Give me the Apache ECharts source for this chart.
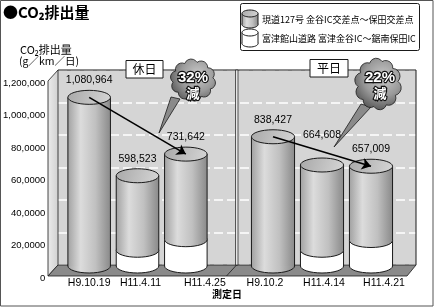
<!DOCTYPE html>
<html><head><meta charset="utf-8">
<script src="https://cdn.jsdelivr.net/npm/echarts@6/dist/echarts.min.js"></script>
<style>html,body{margin:0;padding:0;background:#fff}#c{width:434px;height:307px}</style>
</head><body><div id="c"></div>
<script>
// ---- data ----
const holidayDates = ['H9.10.19', 'H11.4.11', 'H11.4.25'];
const weekdayDates = ['H9.10.2', 'H11.4.14', 'H11.4.21'];
const holidayTotal = [1080964, 598523, 731642];
const weekdayTotal = [838427, 664608, 657009];
const holidayExpressway = [0, 140000, 205000];   // 富津館山道路 (white part)
const weekdayExpressway = [0, 140000, 200000];
const holidayLocal = [1080964, 458523, 526642];   // 現道127号 (gray part)
const weekdayLocal = [838427, 524608, 457009];
const yTickLabels = ['0', '20,0000', '40,0000', '60,0000', '80,0000', '1,000,000', '1,200,000'];
const groupNames = ['休日', '平日'];
const reductions = ['32%', '22%'];
const seriesNames = ['現道127号 金谷IC交差点～保田交差点', '富津館山道路 富津金谷IC～鋸南保田IC'];
const titleText = '●CO₂排出量';
const yTitle = ['CO₂排出量', '(g／km／日)'];
const xTitle = '測定日';
const yMax = 1200000, yStep = 200000;

// ---- styles ----
const numFont = '"Liberation Sans",Arial,sans-serif';
const jpFont = '"Noto Sans CJK JP","Noto Sans",sans-serif';
const stroke = '#1a1a1a';
const grayBody = {type:'linear',x:0,y:0,x2:1,y2:0,colorStops:[{offset:0,color:'#a2a2a2'},{offset:0.3,color:'#dcdcdc'},{offset:0.65,color:'#c0c0c0'},{offset:1,color:'#8a8a8a'}]};
const grayTop = {type:'linear',x:0,y:0,x2:1,y2:1,colorStops:[{offset:0,color:'#a8a8a8'},{offset:1,color:'#d6d6d6'}]};
const fmt = n => n.toLocaleString('en-US');

function makeRender(totals, labelLift){
  return function(params, api){
    const i = api.value(0), ex = api.value(1), lo = api.value(2);
    const p0 = api.coord([i, 0]);
    const cx = p0[0];
    const w = api.size([1, 0])[0] * 0.88, rx = w / 2, ry = 7;
    const base = p0[1] - ry;
    const yEx = api.coord([i, ex])[1];
    const yTop = api.coord([i, ex + lo])[1];
    const kids = [];
    function segment(yb, yt, fill){
      kids.push({type:'ellipse', shape:{cx:cx, cy:yb, rx:rx, ry:ry}, style:{fill:fill, stroke:stroke, lineWidth:1}});
      kids.push({type:'rect', shape:{x:cx-rx, y:yt, width:w, height:yb-yt}, style:{fill:fill}});
      kids.push({type:'line', shape:{x1:cx-rx, y1:yt, x2:cx-rx, y2:yb}, style:{stroke:stroke, lineWidth:1}});
      kids.push({type:'line', shape:{x1:cx+rx, y1:yt, x2:cx+rx, y2:yb}, style:{stroke:stroke, lineWidth:1}});
    }
    let yb = base;
    if (ex > 0) { segment(base, yEx, '#ffffff'); yb = yEx; }
    segment(yb, yTop, grayBody);
    kids.push({type:'ellipse', shape:{cx:cx, cy:yTop, rx:rx, ry:ry}, style:{fill:grayTop, stroke:stroke, lineWidth:1}});
    kids.push({type:'text', x:cx, y:yTop - ry - 10 - (labelLift[params.dataIndex] || 0),
      style:{text:fmt(totals[params.dataIndex]), align:'center', verticalAlign:'middle', textAlign:'center', textVerticalAlign:'middle', font:'10.5px ' + numFont, fill:'#000'}});
    return {type:'group', children:kids};
  };
}

function cloudPath(cx, cy, rx, ry, n){
  let pts = [];
  for (let k = 0; k < n; k++) {
    const t = Math.PI * 2 * k / n - Math.PI / 2 + 0.2;
    pts.push([cx + rx * Math.cos(t), cy + ry * Math.sin(t)]);
  }
  let d = 'M' + pts[0][0].toFixed(1) + ' ' + pts[0][1].toFixed(1);
  for (let k = 1; k <= n; k++) {
    const a = pts[k - 1], b = pts[k % n];
    const r = Math.hypot(b[0] - a[0], b[1] - a[1]) * 0.55;
    d += ' A' + r.toFixed(1) + ' ' + r.toFixed(1) + ' 0 0 1 ' + b[0].toFixed(1) + ' ' + b[1].toFixed(1);
  }
  return d + ' Z';
}
const cloudFill = {type:'radial',x:0.6,y:0.38,r:0.72,colorStops:[{offset:0,color:'#cacaca'},{offset:0.55,color:'#9a9a9a'},{offset:1,color:'#555555'}]};
function cloud(cx, cy, rx, ry, tail, pct, tx){
  return [
    {type:'polygon', shape:{points:tail}, style:{fill:'#8a8a8a', stroke:stroke, lineWidth:0.8}},
    {type:'path', shape:{pathData:cloudPath(cx, cy, rx, ry, 10)}, style:{fill:cloudFill, stroke:stroke, lineWidth:0.8}},
    {type:'text', x:tx[0], y:tx[1], style:{text:pct, align:'center', verticalAlign:'middle', textAlign:'center', textVerticalAlign:'middle', font:'bold 15px "Liberation Sans",Arial,sans-serif', fill:'#fff', stroke:'#111', lineWidth:2.4}},
    {type:'text', x:tx[0], y:tx[1] + 15, style:{text:'減', align:'center', verticalAlign:'middle', textAlign:'center', textVerticalAlign:'middle', font:'bold 13px ' + jpFont, fill:'#fff', stroke:'#111', lineWidth:2.4}}
  ];
}
function boxLabel(x, y, w, h, t){
  return [
    {type:'rect', z:20, shape:{x:x, y:y, width:w, height:h}, style:{fill:'#fff', stroke:stroke, lineWidth:1}},
    {type:'text', z:21, x:x + w / 2, y:y + h / 2 + 0.5, style:{text:t, align:'center', verticalAlign:'middle', font:'12px ' + jpFont, fill:'#000'}}
  ];
}
function legendIcon(x, y, w, h, fill, topFill){
  const rx = w / 2, ry = 3.5, cx = x + rx, yt = y + ry, yb = y + h - ry;
  return [
    {type:'ellipse', z:20, shape:{cx:cx, cy:yb, rx:rx, ry:ry}, style:{fill:fill, stroke:stroke, lineWidth:1}},
    {type:'rect', z:20, shape:{x:x, y:yt, width:w, height:yb - yt}, style:{fill:fill}},
    {type:'line', z:20, shape:{x1:x, y1:yt, x2:x, y2:yb}, style:{stroke:stroke, lineWidth:1}},
    {type:'line', z:20, shape:{x1:x + w, y1:yt, x2:x + w, y2:yb}, style:{stroke:stroke, lineWidth:1}},
    {type:'ellipse', z:20, shape:{cx:cx, cy:yt, rx:rx, ry:ry}, style:{fill:topFill, stroke:stroke, lineWidth:1}}
  ];
}

const axisHidden = {show:false};
const barY = (g) => ({type:'value', gridIndex:g, min:0, max:yMax, interval:yStep, show:false});
const xLabelShift = [[0, 3, 19], [-8, 2, 13]];
function xLabel(g){
  const rich = {};
  xLabelShift[g].forEach((s, k) => {
    rich['s' + k] = {padding: s >= 0 ? [0, 0, 0, 2 * s] : [0, -2 * s, 0, 0], fontSize:10.5, fontFamily:numFont, color:'#000'};
  });
  return {margin:5, interval:0, formatter:(v, idx) => '{s' + idx + '|' + v + '}', rich:rich};
}

const graphics = [].concat(
  [
    {type:'polygon', z:1, shape:{points:[[48,81],[58,70],[58,265],[48,276]]}, style:{fill:{type:'linear',x:0,y:0,x2:1,y2:0,colorStops:[{offset:0,color:'#ececec'},{offset:1,color:'#d0d0d0'}]}, stroke:stroke, lineWidth:0.8}},
    {type:'polygon', z:1, shape:{points:[[58,265],[416,265],[407,276],[48,276]]}, style:{fill:'#8a8a8a', stroke:stroke, lineWidth:0.8}},
    {type:'polyline', z:1, shape:{points:[[58,70],[416,70],[416,265]]}, style:{stroke:stroke, lineWidth:1, fill:null}},
    {type:'rect', z:1, shape:{x:235.5, y:70, width:2.5, height:195}, style:{fill:'#e6e6e6', stroke:stroke, lineWidth:0.7}},
    {type:'line', z:1, shape:{x1:236.5, y1:265, x2:226.5, y2:276}, style:{stroke:stroke, lineWidth:0.8}},
    {type:'rect', z:30, shape:{x:0.5, y:0.5, width:432.5, height:305.5}, style:{fill:null, stroke:'#555', lineWidth:1}},
    {type:'text', z:21, x:3, y:12.5, style:{text:titleText, verticalAlign:'middle', font:'bold 15px ' + jpFont, fill:'#000'}},
    {type:'text', z:21, x:20, y:50, style:{text:yTitle[0], verticalAlign:'middle', font:'11px ' + jpFont, fill:'#000'}},
    {type:'text', z:21, x:19, y:61, style:{text:yTitle[1], verticalAlign:'middle', font:'10.5px ' + jpFont, fill:'#000'}},
    {type:'text', z:21, x:227, y:294, style:{text:xTitle, align:'center', verticalAlign:'middle', font:'bold 10px ' + jpFont, fill:'#000'}},
    {type:'rect', z:19, shape:{x:240.5, y:3.5, width:179, height:47, r:2}, style:{fill:'#fff', stroke:stroke, lineWidth:1}},
    {type:'text', z:21, x:262, y:19.5, style:{text:seriesNames[0], verticalAlign:'middle', font:'9px ' + jpFont, fill:'#000'}},
    {type:'text', z:21, x:262, y:38.5, style:{text:seriesNames[1], verticalAlign:'middle', font:'9px ' + jpFont, fill:'#000'}}
  ],
  legendIcon(242, 10, 16, 18, grayBody, grayTop),
  legendIcon(242, 29, 16, 18, '#fff', '#fff'),
  boxLabel(126, 60.5, 37, 17.5, groupNames[0]),
  boxLabel(310, 59.5, 38, 17.5, groupNames[1])
);

const cloudElements = [].concat(
  cloud(193, 80, 20, 18, [[171,97],[180,99],[159,133]], reductions[0], [193, 78]),
  cloud(378, 84, 20, 23, [[361,104],[371,107],[334,147]], reductions[1], [380, 78])
);

const option = {
  backgroundColor:'#fff',
  animation:false,
  grid:[
    {left:58, right:18, top:70, bottom:42, show:true, backgroundColor:'#d5d5d5', borderWidth:0},
    {left:65, width:145, top:78, bottom:34},
    {left:248.5, width:147, top:78, bottom:34},
    {left:48, width:1, top:83, bottom:29}
  ],
  xAxis:[
    {type:'value', gridIndex:0, show:false},
    {type:'category', gridIndex:1, data:holidayDates, axisLine:axisHidden, axisTick:axisHidden, axisLabel:xLabel(0)},
    {type:'category', gridIndex:2, data:weekdayDates, axisLine:axisHidden, axisTick:axisHidden, axisLabel:xLabel(1)},
    {type:'value', gridIndex:3, show:false}
  ],
  yAxis:[
    {type:'value', gridIndex:0, min:0, max:yMax, interval:yStep, axisLabel:{show:false}, axisLine:axisHidden, axisTick:axisHidden,
      splitLine:{show:true, lineStyle:{color:'#ffffff', width:1.5, type:[9, 4]}}},
    barY(1), barY(2),
    {type:'value', gridIndex:3, min:0, max:yMax, interval:yStep, axisLine:axisHidden, axisTick:axisHidden, splitLine:axisHidden,
      axisLabel:{margin:3, fontSize:9.5, fontFamily:numFont, color:'#000', formatter:(v) => yTickLabels[Math.round(v / yStep)]}}
  ],
  series:[
    {type:'custom', name:'休日', xAxisIndex:1, yAxisIndex:1, z:3, encode:{x:0, y:2},
      data:holidayDates.map((d, i) => [i, holidayExpressway[i], holidayLocal[i]]),
      renderItem:makeRender(holidayTotal, {})},
    {type:'custom', name:'平日', xAxisIndex:2, yAxisIndex:2, z:3, encode:{x:0, y:2},
      data:weekdayDates.map((d, i) => [i, weekdayExpressway[i], weekdayLocal[i]]),
      renderItem:makeRender(weekdayTotal, {1:13})},
    {type:'lines', coordinateSystem:'cartesian2d', xAxisIndex:1, yAxisIndex:1, z:5, symbol:['none','arrow'], symbolSize:9,
      lineStyle:{color:'#000', width:1.6, opacity:1}, silent:true,
      data:[{coords:[[0, holidayTotal[0]], [2, holidayTotal[2]]]}]},
    {type:'lines', coordinateSystem:'cartesian2d', xAxisIndex:2, yAxisIndex:2, z:5, symbol:['none','arrow'], symbolSize:9,
      lineStyle:{color:'#000', width:1.6, opacity:1}, silent:true,
      data:[{coords:[[0, weekdayTotal[0]], [2, weekdayTotal[2]]]}]},
    {type:'custom', coordinateSystem:'none', z:20, silent:true, data:[[0]],
      renderItem:() => ({type:'group', children:cloudElements})}
  ],
  graphic:{elements:graphics}
};
const chart = echarts.init(document.getElementById('c'));
chart.setOption(option);
</script>
</body></html>
